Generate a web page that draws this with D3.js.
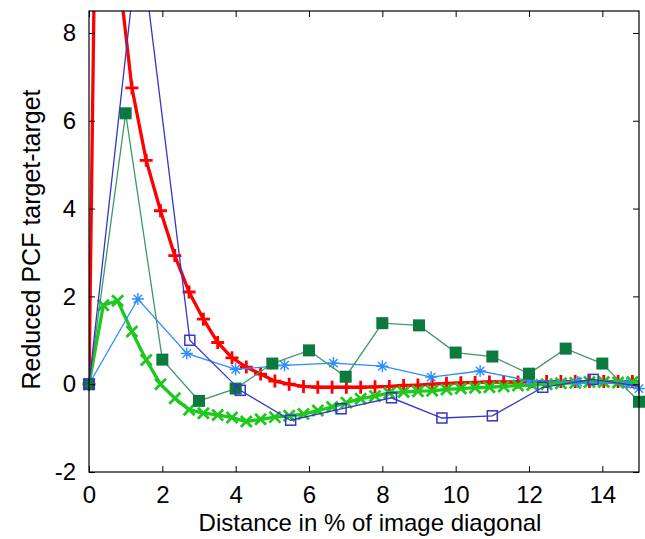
<!DOCTYPE html>
<html>
  <head>
    <meta http-equiv="Content-Type" content="text/html;charset=utf-8">
    <title>Reduced PCF target-target</title>
    <script type="text/javascript" src="https://d3js.org/d3.v7.min.js"></script>
    <style>
	    html, body {
		    margin: 0;
		    padding: 0;
		    background: #fff;
	    }
	    text {
		    font-family: "Liberation Sans", Arial, sans-serif;
		    font-size: 24px;
		    fill: #000;
	    }
	    path.line {
		    fill: none;
	    }
    </style>
  </head>
  <body>
	<script type="text/javascript">

// dense series (red +, green x) share one grid
var denseX = [0, 0.39, 0.78, 1.17, 1.56, 1.95, 2.34, 2.73, 3.12, 3.51, 3.9, 4.29, 4.68, 5.07, 5.46, 5.85,
	6.24, 6.63, 7.02, 7.41, 7.8, 8.19, 8.58, 8.97, 9.36, 9.75, 10.14, 10.53, 10.92, 11.31, 11.7,
	12.09, 12.48, 12.87, 13.26, 13.65, 14.04, 14.43, 14.82, 15.21];
var redY = [0, 25, 9.6, 6.75, 5.1, 3.95, 2.93, 2.1, 1.48, 0.95, 0.6, 0.39, 0.23, 0.07, 0.0, -0.05,
	-0.07, -0.07, -0.07, -0.07, -0.06, -0.05, -0.03, -0.02, 0, 0.02, 0.03, 0.04, 0.05, 0.05, 0.05,
	0.06, 0.06, 0.06, 0.06, 0.06, 0.06, 0.06, 0.06, 0.06];
var greenY = [0, 1.8, 1.9, 1.2, 0.55, 0.0, -0.32, -0.58, -0.66, -0.7, -0.76, -0.85, -0.8, -0.75, -0.72, -0.68,
	-0.6, -0.52, -0.42, -0.33, -0.27, -0.2, -0.18, -0.16, -0.15, -0.12, -0.1, -0.08, -0.07, -0.05, -0.03,
	-0.02, 0.0, 0.02, 0.03, 0.05, 0.05, 0.04, 0.05, 0.05];

var squareX = [0, 1, 2, 3, 4, 5, 6, 7, 8, 9, 10, 11, 12, 13, 14, 15];
var squareY = [0, 6.17, 0.56, -0.38, -0.1, 0.47, 0.77, 0.17, 1.39, 1.34, 0.72, 0.63, 0.24, 0.81, 0.47, -0.4];

var starX = [0, 1.333, 2.667, 4, 5.333, 6.667, 8, 9.333, 10.667, 12, 13.333, 14.667, 15];
var starY = [0, 1.94, 0.7, 0.34, 0.43, 0.48, 0.41, 0.16, 0.3, 0.08, 0.05, 0.0, -0.1];

var boxX = [0, 1.375, 2.75, 4.125, 5.5, 6.875, 8.25, 9.625, 11, 12.375, 13.75, 15.125];
var boxY = [0, 10.3, 1.0, -0.14, -0.82, -0.56, -0.31, -0.77, -0.72, -0.07, 0.11, -0.06];

var xTicks = [0, 2, 4, 6, 8, 10, 12, 14];
var yTicks = [-2, 0, 2, 4, 6, 8];

var margin = {left: 89, right: 6, top: 11, bottom: 67};
var width = 645 - margin.left - margin.right;
var height = 539 - margin.top - margin.bottom;

var x = d3.scaleLinear().domain([0, 15]).range([0, width]);
var y = d3.scaleLinear().domain([-2, 8.5]).range([height, 0]);

var svg = d3.select("body").append("svg").attr("width", 645).attr("height", 539);
var g = svg.append("g").attr("transform", "translate(" + margin.left + "," + margin.top + ")");

g.append("clipPath").attr("id", "clip")
	.append("rect").attr("width", width).attr("height", height);

function zip(xs, ys) {
	return xs.map(function(v, i) { return {x: v, y: ys[i]}; });
}
function inside(d) {
	return d.x >= 0 && d.x <= 15 && d.y >= -2 && d.y <= 8.5;
}

var line = d3.line().x(function(d) { return x(d.x); }).y(function(d) { return y(d.y); });

var series = [
	{data: zip(denseX, redY), color: "#ff0000", lw: 3.3, mark: "plus"},
	{data: zip(denseX, greenY), color: "#1ec81e", lw: 3.3, mark: "cross"},
	{data: zip(starX, starY), color: "#2a8cff", lw: 1.3, mark: "star"},
	{data: zip(squareX, squareY), color: "#0b7a3e", lw: 1.3, mark: "fill", lineColor: "#3d9a66"},
	{data: zip(boxX, boxY), color: "#3535c8", lw: 1.3, mark: "box"}
];

var markPath = {
	plus: "M-6.5,0H6.5M0,-6.5V6.5",
	cross: "M-5.5,-5.5L5.5,5.5M-5.5,5.5L5.5,-5.5",
	star: "M-6,0H6M0,-6V6M-4.2,-4.2L4.2,4.2M-4.2,4.2L4.2,-4.2"
};

series.forEach(function(s) {
	g.append("path")
		.attr("class", "line")
		.attr("clip-path", "url(#clip)")
		.attr("d", line(s.data))
		.attr("stroke", s.lineColor || s.color)
		.attr("stroke-width", s.lw);

	var pts = g.append("g").selectAll("g").data(s.data.filter(inside)).enter().append("g")
		.attr("transform", function(d) { return "translate(" + x(d.x) + "," + y(d.y) + ")"; });

	if (s.mark == "fill") {
		pts.append("rect").attr("x", -6).attr("y", -6).attr("width", 12).attr("height", 12)
			.attr("fill", s.color);
	} else if (s.mark == "box") {
		pts.append("rect").attr("x", -5).attr("y", -5).attr("width", 10).attr("height", 10)
			.attr("fill", "none").attr("stroke", s.color).attr("stroke-width", 1.5);
	} else {
		pts.append("path").attr("d", markPath[s.mark])
			.attr("fill", "none").attr("stroke", s.color)
			.attr("stroke-width", s.mark == "star" ? 1.4 : 2.8);
	}
});

// frame with inward ticks on all four sides
g.append("rect").attr("width", width).attr("height", height)
	.attr("fill", "none").attr("stroke", "#000").attr("stroke-width", 1.2);

var plain = function(d) { return String(d); };
var xAxis = d3.axisBottom(x).tickValues(xTicks).tickSize(-6).tickPadding(14).tickFormat(plain);
var yAxis = d3.axisLeft(y).tickValues(yTicks).tickSize(-6).tickPadding(13).tickFormat(plain);

var xg = g.append("g").attr("transform", "translate(0," + height + ")").call(xAxis);
var yg = g.append("g").call(yAxis);
g.append("g").call(d3.axisTop(x).tickValues(xTicks).tickSize(-6).tickFormat(""));
g.append("g").attr("transform", "translate(" + width + ",0)")
	.call(d3.axisRight(y).tickValues(yTicks).tickSize(-6).tickFormat(""));

g.selectAll(".domain").remove();
g.selectAll(".tick line").attr("stroke", "#000");
xg.selectAll("text").style("font-size", "24px").attr("font-family", null);
yg.selectAll("text").style("font-size", "24px").attr("font-family", null);

svg.append("text")
	.attr("x", margin.left + width / 2 + 6)
	.attr("y", 531)
	.attr("text-anchor", "middle")
	.text("Distance in % of image diagonal");

svg.append("text")
	.attr("transform", "translate(40," + (margin.top + height / 2 - 2) + ") rotate(-90)")
	.attr("text-anchor", "middle")
	.style("font-size", "25px")
	.text("Reduced PCF target-target");

	</script>
  </body>
</html>
